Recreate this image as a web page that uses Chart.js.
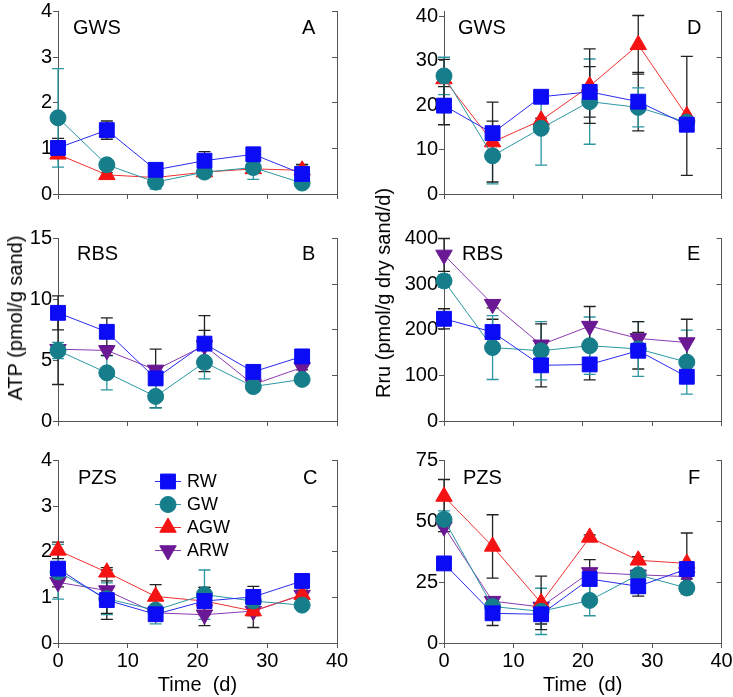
<!DOCTYPE html>
<html><head><meta charset="utf-8">
<script src="https://cdn.jsdelivr.net/npm/chart.js@4.4.1/dist/chart.umd.min.js"></script>
<style>
body{margin:0;width:733px;height:697px;position:relative;background:#fff;font-family:"Liberation Sans",Arial,sans-serif;overflow:hidden}
canvas{position:absolute}
.lbl{position:absolute;font-size:20px;line-height:20px;color:#000;white-space:nowrap}
.yt{position:absolute;font-size:20px;line-height:20px;color:#000;white-space:nowrap;transform:translate(-50%,-50%) rotate(-90deg)}
</style></head><body>
<script>
// ---------- data ----------
const days = [0, 7, 14, 21, 28, 35];
const xTicks = [0, 10, 20, 30, 40];

// A: ATP, GWS
const atpGwsTicks = [0, 1, 2, 3, 4];
const atpGwsRW = [1.01, 1.40, 0.53, 0.73, 0.87, 0.44];
const atpGwsRWErr = [0.21, 0.20, 0.06, 0.20, 0.08, 0.21];
const atpGwsGW = [1.67, 0.64, 0.26, 0.48, 0.58, 0.24];
const atpGwsGWErr = [1.08, 0.05, 0.15, 0.05, 0.26, 0.05];
const atpGwsAGW = [0.87, 0.42, 0.36, 0.48, 0.55, 0.52];
const atpGwsAGWErr = [0.08, 0.05, 0.05, 0.08, 0.05, 0.12];

// B: ATP, RBS
const atpRbsTicks = [0, 5, 10, 15];
const atpRbsRW = [8.89, 7.33, 3.50, 6.36, 4.04, 5.31];
const atpRbsRWErr = [1.4, 1.15, 2.4, 2.3, 0.2, 0.2];
const atpRbsGW = [5.79, 3.96, 2.02, 4.82, 2.83, 3.42];
const atpRbsGWErr = [0.67, 1.4, 0.95, 1.35, 0.2, 0.2];
const atpRbsARW = [5.9, 5.8, 4.2, 6.2, 3.0, 4.4];
const atpRbsARWErr = [2.9, 0.4, 0.3, 1.25, 0.2, 0.2];

// C: ATP, PZS
const atpPzsTicks = [0, 1, 2, 3, 4];
const atpPzsRW = [1.63, 0.94, 0.63, 0.92, 1.01, 1.36];
const atpPzsRWErr = [0.1, 0.42, 0.1, 0.3, 0.23, 0.05];
const atpPzsGW = [1.56, 0.97, 0.72, 1.06, 0.92, 0.83];
const atpPzsGWErr = [0.6, 0.35, 0.3, 0.54, 0.1, 0.05];
const atpPzsAGW = [2.03, 1.55, 1.02, 0.92, 0.70, 1.06];
const atpPzsAGWErr = [0.18, 0.05, 0.26, 0.3, 0.36, 0.1];
const atpPzsARW = [1.33, 1.15, 0.66, 0.62, 0.70, 1.05];
const atpPzsARWErr = [0.1, 0.5, 0.1, 0.24, 0.1, 0.1];

// D: Rru, GWS
const rruGwsTicks = [0, 10, 20, 30, 40];
const rruGwsRW = [19.9, 13.7, 21.9, 23.0, 20.8, 15.6];
const rruGwsRWErr = [4.3, 2.7, 0.5, 5.7, 6.6, 1.5];
const rruGwsGW = [26.6, 8.6, 14.8, 20.8, 19.5, 16.2];
const rruGwsGWErr = [4.2, 6.3, 8.3, 9.6, 4.4, 1.0];
const rruGwsAGW = [25.9, 11.7, 16.6, 24.3, 33.6, 17.6];
const rruGwsAGWErr = [4.4, 9.0, 0.5, 8.4, 6.6, 13.4];

// E: Rru, RBS
const rruRbsTicks = [0, 100, 200, 300, 400];
const rruRbsRW = [224, 195, 122, 124, 154, 97];
const rruRbsRWErr = [22, 28, 47, 34, 40, 8];
const rruRbsGW = [307, 161, 154, 165, 158, 129];
const rruRbsGWErr = [14, 70, 64, 63, 60, 70];
const rruRbsARW = [364, 256, 167, 208, 181, 172];
const rruRbsARWErr = [36, 8, 46, 43, 37, 51];

// F: Rru, PZS
const rruPzsTicks = [0, 25, 50, 75];
const rruPzsRW = [32.7, 12.2, 11.8, 26.3, 23.3, 30.4];
const rruPzsRWErr = [1, 5, 4, 8, 4, 1];
const rruPzsGW = [50.8, 15, 13, 17.5, 28, 22.6];
const rruPzsGWErr = [3.5, 2, 9.5, 6.3, 7.5, 1];
const rruPzsAGW = [60.2, 39.7, 16.5, 43.4, 34, 32.7];
const rruPzsAGWErr = [7, 13, 11, 1, 1.5, 12.5];
const rruPzsARW = [47.8, 17.2, 14.8, 29, 28, 27.3];
const rruPzsARWErr = [2, 1.5, 1, 1, 1, 1];

const legendNames = ['RW', 'GW', 'AGW', 'ARW'];

// ---------- styles ----------
const FONT = '"Liberation Sans", Arial, sans-serif';
const AX = '#555';
const STYLE = {
  RW:  {color:'#0b0bf5', line:'#2a2af0', err:'#222', ps:'rect', r:10.5, rot:0},
  GW:  {color:'#167d8a', line:'#2a97a3', err:'#2a97a3', ps:'circle', r:8, rot:0},
  AGW: {color:'#f51212', line:'#f03030', err:'#222', ps:'triangle', r:9.5, rot:0},
  ARW: {color:'#6b1894', line:'#8a3ab0', err:'#222', ps:'triangle', r:9.5, rot:180},
};

const errorBars = {
  id: 'errorBars',
  beforeDatasetsDraw(chart) {
    const ctx = chart.ctx, xs = chart.scales.x, ys = chart.scales.y;
    chart.data.datasets.forEach(ds => {
      if (!ds.errors) return;
      ctx.save();
      ctx.strokeStyle = ds.errorColor; ctx.lineWidth = 1.3;
      ds.data.forEach((p, j) => {
        const e = ds.errors[j]; if (!e) return;
        const x = xs.getPixelForValue(p.x);
        const yt = ys.getPixelForValue(p.y + e);
        const yb = ys.getPixelForValue(Math.max(0, p.y - e));
        ctx.beginPath();
        ctx.moveTo(x, yt); ctx.lineTo(x, yb);
        ctx.moveTo(x - 6, yt); ctx.lineTo(x + 6, yt);
        ctx.moveTo(x - 6, yb); ctx.lineTo(x + 6, yb);
        ctx.stroke();
      });
      ctx.restore();
    });
  }
};

const legendPlugin = {
  id: 'insideLegend',
  afterDatasetsDraw(chart, args, opts) {
    if (!opts.show) return;
    const ctx = chart.ctx, ca = chart.chartArea;
    legendNames.forEach((n, i) => {
      const st = STYLE[n];
      const cx = ca.left + 110, cy = ca.top + 21 + i * 23;
      ctx.save();
      ctx.strokeStyle = st.line; ctx.lineWidth = 1;
      ctx.beginPath(); ctx.moveTo(cx - 13, cy); ctx.lineTo(cx + 13, cy); ctx.stroke();
      ctx.fillStyle = st.color; ctx.strokeStyle = st.color; ctx.lineWidth = 1;
      Chart.helpers.drawPoint(ctx, {pointStyle: st.ps, radius: st.r, rotation: st.rot, borderWidth: 1}, cx, cy);
      ctx.fillStyle = '#000'; ctx.font = '18px ' + FONT; ctx.textBaseline = 'middle'; ctx.textAlign = 'left';
      ctx.fillText(n, cx + 19, cy + 1);
      ctx.restore();
    });
  }
};

function build(p) {
  const cv = document.createElement('canvas');
  cv.width = p.w; cv.height = p.h;
  cv.style.left = p.left + 'px'; cv.style.top = p.top + 'px';
  cv.style.width = p.w + 'px'; cv.style.height = p.h + 'px';
  document.body.appendChild(cv);
  const datasets = p.series.map(s => {
    const st = STYLE[s.name];
    return {
      label: s.name,
      data: days.map((d, i) => ({x: d, y: s.values[i]})),
      errors: s.errors, errorColor: st.err,
      borderColor: st.line, backgroundColor: st.color,
      pointBackgroundColor: st.color, pointBorderColor: st.color, pointBorderWidth: 1,
      borderWidth: 1, pointStyle: st.ps, pointRadius: st.r, pointRotation: st.rot,
      pointHoverRadius: st.r, clip: false, tension: 0, fill: false
    };
  });
  const tickFont = {family: FONT, size: 20};
  new Chart(cv, {
    type: 'line',
    data: {datasets},
    options: {
      responsive: false, animation: false, devicePixelRatio: 1,
      layout: {padding: {top: p.padTop, left: 0, right: 0, bottom: 0}},
      plugins: {legend: {display: false}, tooltip: {enabled: false}, insideLegend: {show: !!p.legend}},
      events: [],
      scales: {
        x: {
          type: 'linear', min: 0, max: 40,
          afterBuildTicks: s => { s.ticks = xTicks.map(v => ({value: v})); },
          afterFit: s => { s.height = p.xH; s.paddingLeft = 0; s.paddingRight = 0; },
          grid: {drawOnChartArea: false, drawTicks: true, tickLength: 5, color: AX},
          border: {color: AX, width: 1},
          ticks: {display: p.showX, font: tickFont, color: '#000', padding: 1, maxRotation: 0, autoSkip: false},
          title: {display: p.showX, text: 'Time  (d)', font: tickFont, color: '#000', padding: 0}
        },
        y: {
          position: 'left', min: 0, max: p.yMax,
          afterBuildTicks: s => { s.ticks = p.ticks.map(v => ({value: v})); },
          afterFit: s => { s.width = p.leftW; s.paddingTop = 0; s.paddingBottom = 0; },
          grid: {drawOnChartArea: false, drawTicks: true, tickLength: 5, color: AX},
          border: {color: AX, width: 1},
          ticks: {font: tickFont, color: '#000', padding: 1, autoSkip: false}
        },
        y2: {
          position: 'right', min: 0, max: p.yMax,
          afterBuildTicks: s => { s.ticks = Array.from({length: p.y2n + 1}, (_, i) => ({value: p.yMax * i / p.y2n})); },
          afterFit: s => { s.width = p.rightW; s.paddingTop = 0; s.paddingBottom = 0; },
          grid: {drawOnChartArea: false, drawTicks: true, tickLength: -5, color: AX},
          border: {color: AX, width: 1},
          ticks: {display: false}
        }
      }
    },
    plugins: [errorBars, legendPlugin]
  });
}

const L = {left: 0, w: 366, leftW: 58, rightW: 29};
const R = {left: 366, w: 367, leftW: 78, rightW: 10};
const ROW1 = {top: 0, h: 206, padTop: 7, xH: 12, showX: false};
const ROW2 = {top: 227, h: 206, padTop: 8, xH: 12, showX: false};
const ROW3 = {top: 449, h: 248, padTop: 8, xH: 54, showX: true};

build(Object.assign({}, L, ROW1, {yMax: 4, ticks: atpGwsTicks, y2n: 4, series: [
  {name: 'RW', values: atpGwsRW, errors: atpGwsRWErr},
  {name: 'GW', values: atpGwsGW, errors: atpGwsGWErr},
  {name: 'AGW', values: atpGwsAGW, errors: atpGwsAGWErr}]}));
build(Object.assign({}, L, ROW2, {yMax: 15, ticks: atpRbsTicks, y2n: 4, series: [
  {name: 'RW', values: atpRbsRW, errors: atpRbsRWErr},
  {name: 'GW', values: atpRbsGW, errors: atpRbsGWErr},
  {name: 'ARW', values: atpRbsARW, errors: atpRbsARWErr}]}));
build(Object.assign({}, L, ROW3, {yMax: 4, ticks: atpPzsTicks, y2n: 4, legend: true, series: [
  {name: 'RW', values: atpPzsRW, errors: atpPzsRWErr},
  {name: 'GW', values: atpPzsGW, errors: atpPzsGWErr},
  {name: 'AGW', values: atpPzsAGW, errors: atpPzsAGWErr},
  {name: 'ARW', values: atpPzsARW, errors: atpPzsARWErr}]}));
build(Object.assign({}, R, ROW1, {yMax: 41.1, ticks: rruGwsTicks, y2n: 4, series: [
  {name: 'RW', values: rruGwsRW, errors: rruGwsRWErr},
  {name: 'GW', values: rruGwsGW, errors: rruGwsGWErr},
  {name: 'AGW', values: rruGwsAGW, errors: rruGwsAGWErr}]}));
build(Object.assign({}, R, ROW2, {yMax: 400, ticks: rruRbsTicks, y2n: 4, series: [
  {name: 'RW', values: rruRbsRW, errors: rruRbsRWErr},
  {name: 'GW', values: rruRbsGW, errors: rruRbsGWErr},
  {name: 'ARW', values: rruRbsARW, errors: rruRbsARWErr}]}));
build(Object.assign({}, R, ROW3, {yMax: 75, ticks: rruPzsTicks, y2n: 3, series: [
  {name: 'RW', values: rruPzsRW, errors: rruPzsRWErr},
  {name: 'GW', values: rruPzsGW, errors: rruPzsGWErr},
  {name: 'AGW', values: rruPzsAGW, errors: rruPzsAGWErr},
  {name: 'ARW', values: rruPzsARW, errors: rruPzsARWErr}]}));
</script>
<div class="lbl" style="left:73px;top:17px">GWS</div>
<div class="lbl" style="left:302px;top:17px">A</div>
<div class="lbl" style="left:77px;top:243px">RBS</div>
<div class="lbl" style="left:302px;top:243px">B</div>
<div class="lbl" style="left:78px;top:467px">PZS</div>
<div class="lbl" style="left:303px;top:467px">C</div>
<div class="lbl" style="left:458px;top:17px">GWS</div>
<div class="lbl" style="left:687px;top:17px">D</div>
<div class="lbl" style="left:462px;top:243px">RBS</div>
<div class="lbl" style="left:687px;top:243px">E</div>
<div class="lbl" style="left:463px;top:467px">PZS</div>
<div class="lbl" style="left:688px;top:467px">F</div>
<div class="yt" style="left:15px;top:318px">ATP (pmol/g sand)</div>
<div class="yt" style="left:383px;top:293px">Rru (pmol/g dry sand/d)</div>
</body></html>
